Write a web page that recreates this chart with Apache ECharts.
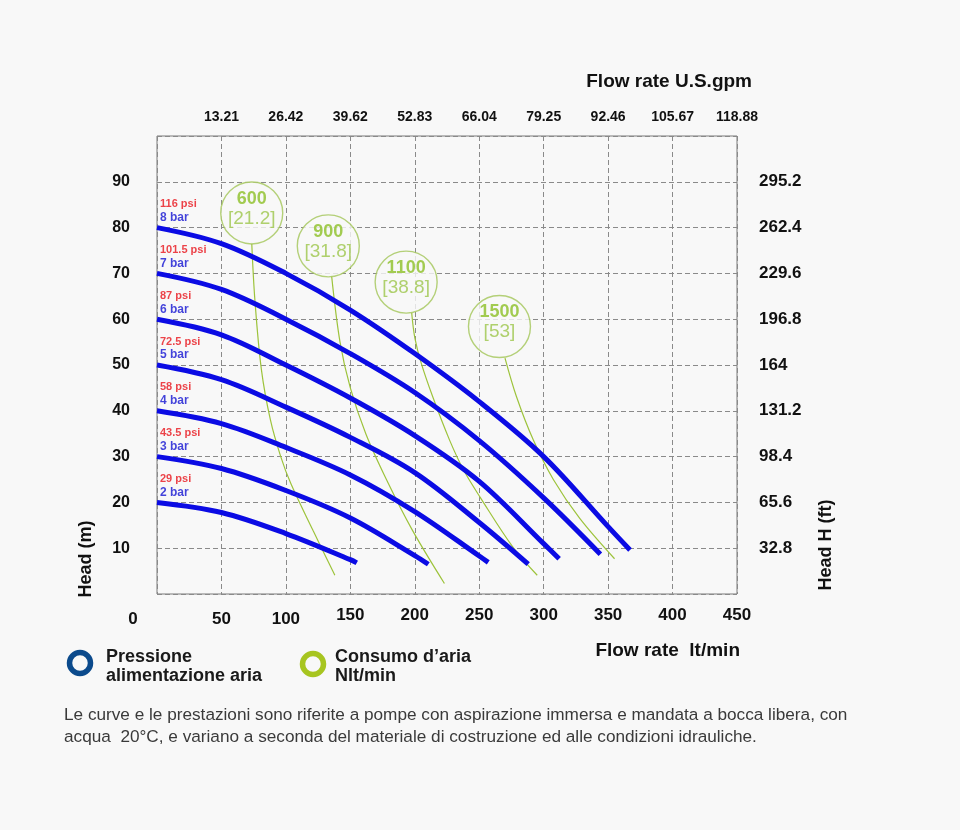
<!DOCTYPE html>
<html>
<head>
<meta charset="utf-8">
<style>
  html, body { margin: 0; padding: 0; background: #f8f8f8; }
  #chart { width: 960px; height: 830px; }
</style>
<script src="https://cdn.jsdelivr.net/npm/echarts@6/dist/echarts.min.js"></script>
</head>
<body>
<div id="chart"></div>
<script>
// ---- Data (flow lt/min, head m) ----
const bar8 = [[0,80],[50,76.5],[100,70],[150,62],[200,52.5],[250,42],[300,30],[350,14.7],[367,9.6]];
const bar7 = [[0,70],[50,66.5],[100,60],[150,52.5],[200,44],[250,33.5],[300,21],[344,8.7]];
const bar6 = [[0,60],[50,56.6],[100,50],[150,42.8],[200,34.6],[250,24.6],[300,11],[312,7.7]];
const bar5 = [[0,50],[50,46.8],[100,40.8],[150,34.2],[200,26.5],[250,15.6],[288,6.5]];
const bar4 = [[0,40],[50,37.2],[100,32],[150,26],[200,18],[250,8.3],[257,6.9]];
const bar3 = [[0,30],[50,27.4],[100,22.6],[150,16.6],[200,8.4],[210.5,6.5]];
const bar2 = [[0,20],[50,17.8],[100,13.2],[150,7.5],[155,6.8]];

const air600  = [[73.5,76.7],[76,64],[81,49],[88,38],[96,30],[104,24],[121,13.9],[138,4.1]];
const air900  = [[135.5,69.4],[142,55],[150,45],[162,35],[178,25],[198,14],[223,2.3]];
const air1100 = [[197.6,61.4],[200,56],[205,50.4],[214,43],[227,33.6],[238,27],[251,21],[276,10.3],[295,4.1]];
const air1500 = [[270,51.5],[279,43],[292,33.6],[307.5,25],[328,16.5],[355,7.7]];

const airBubbles = [[73.5,83.2],[132.9,76.0],[193.3,68.1],[265.7,58.4]];
const airNlt  = ['600','900','1100','1500'];
const airScfm = ['21.2','31.8','38.8','53'];

const barCurves = [bar8, bar7, bar6, bar5, bar4, bar3, bar2];
const barValues = ['8','7','6','5','4','3','2'];
const psiValues = ['116','101.5','87','72.5','58','43.5','29'];

const topTickLabels   = ['13.21','26.42','39.62','52.83','66.04','79.25','92.46','105.67','118.88'];
const rightTickLabels = ['32.8','65.6','98.4','131.2','164','196.8','229.6','262.4','295.2'];

// ---- Styles ----
const FONT = '"Liberation Sans", Arial, sans-serif';
const BLUE = '#0b0be4';
const GREEN_LINE = '#9dc33b';
const GREEN_TXT = '#8cbf26';
const GRID_C = '#8a8a8a';

const chart = echarts.init(document.getElementById('chart'), null, {renderer: 'canvas'});

const series = [];
[air600, air900, air1100, air1500].forEach((d) => {
  series.push({
    type: 'line', data: d, smooth: 0.35, symbol: 'none', z: 2,
    lineStyle: {color: GREEN_LINE, width: 1.2}, silent: true
  });
});
barCurves.forEach((d, i) => {
  series.push({
    type: 'line', name: barValues[i] + ' bar', data: d, smooth: 0.35, symbol: 'none', z: 3,
    lineStyle: {color: BLUE, width: 5}, silent: true
  });
});
series.push({
  type: 'scatter', z: 4, silent: true,
  data: airBubbles,
  symbol: 'circle', symbolSize: 62,
  itemStyle: {color: '#f8f8f8', borderColor: '#a3c658', borderWidth: 1.4},
  label: {
    show: true, position: 'inside',
    formatter: p => '{a|' + airNlt[p.dataIndex] + '}\n{b|[' + airScfm[p.dataIndex] + ']}',
    padding: [0, 0, 8, 0],
    rich: {
      a: {fontFamily: FONT, fontWeight: 'bold', fontSize: 18, color: GREEN_TXT, lineHeight: 19, align: 'center'},
      b: {fontFamily: FONT, fontWeight: 'normal', fontSize: 19, color: '#9cc54a', lineHeight: 20, align: 'center'}
    }
  }
});
series.push({
  type: 'scatter', z: 5, silent: true, symbolSize: 0,
  data: barCurves.map(c => c[0]),
  label: {
    show: true, position: [3, -30], align: 'left', verticalAlign: 'top',
    formatter: p => '{p|' + psiValues[p.dataIndex] + ' psi}\n{b|' + barValues[p.dataIndex] + ' bar}',
    rich: {
      p: {fontFamily: FONT, fontWeight: 'bold', fontSize: 11, color: '#e8141c', lineHeight: 13},
      b: {fontFamily: FONT, fontWeight: 'bold', fontSize: 12, color: '#1414d2', lineHeight: 14}
    }
  }
});

const txt = (text, x, y, size, weight, color, align, extra) => Object.assign({
  type: 'text', x: x, y: y, silent: true,
  style: {
    text: text, x: 0, y: 0, fill: color,
    font: weight + ' ' + size + 'px ' + FONT,
    align: align, textAlign: align, verticalAlign: 'middle', textVerticalAlign: 'middle'
  }
}, extra || {});

const option = {
  backgroundColor: '#f8f8f8',
  animation: false,
  grid: {left: 157, top: 136, width: 580, height: 458, show: true, borderColor: '#7a7a7a', borderWidth: 1, backgroundColor: 'transparent'},
  xAxis: [{
    type: 'value', position: 'bottom', min: 0, max: 450, interval: 50,
    axisLine: {show: false}, axisTick: {show: false},
    splitLine: {show: true, lineStyle: {color: GRID_C, type: [5, 3], width: 1}},
    axisLabel: {
      margin: 13,
      formatter: v => v === 0 ? '{z|0}' : ((v === 50 || v === 100) ? '{d|' + v + '}' : '{n|' + v + '}'),
      rich: {
        z: {fontFamily: FONT, fontWeight: 'bold', fontSize: 17, color: '#111', padding: [4, 48, 0, 0]},
        d: {fontFamily: FONT, fontWeight: 'bold', fontSize: 17, color: '#111', padding: [4, 0, 0, 0]},
        n: {fontFamily: FONT, fontWeight: 'bold', fontSize: 17, color: '#111'}
      }
    }
  }, {
    type: 'value', position: 'top', min: 0, max: 450, interval: 50,
    axisLine: {show: false}, axisTick: {show: false}, splitLine: {show: false},
    axisLabel: {
      margin: 12, fontFamily: FONT, fontWeight: 'bold', fontSize: 14, color: '#111',
      formatter: v => v === 0 ? '' : topTickLabels[v / 50 - 1]
    }
  }],
  yAxis: [{
    type: 'value', position: 'left', min: 0, max: 100, interval: 10,
    axisLine: {show: false}, axisTick: {show: false},
    splitLine: {show: true, lineStyle: {color: GRID_C, type: [5, 3], width: 1}},
    axisLabel: {
      margin: 27, fontFamily: FONT, fontWeight: 'bold', fontSize: 16, color: '#111',
      padding: [3, 0, 0, 0],
      formatter: v => (v === 0 || v === 100) ? '' : String(v)
    }
  }, {
    type: 'value', position: 'right', min: 0, max: 100, interval: 10,
    axisLine: {show: false}, axisTick: {show: false}, splitLine: {show: false},
    axisLabel: {
      margin: 22, fontFamily: FONT, fontWeight: 'bold', fontSize: 17, color: '#111',
      padding: [0, 0, 5, 0],
      formatter: v => (v === 0 || v === 100) ? '' : rightTickLabels[v / 10 - 1]
    }
  }],
  series: series,
  graphic: [
    txt('Flow rate U.S.gpm', 752, 82, 19, 'bold', '#111', 'right'),
    txt('Flow rate  lt/min', 740, 651, 19, 'bold', '#111', 'right'),
    txt('Head (m)', 86, 559, 18, 'bold', '#111', 'center', {rotation: Math.PI / 2}),
    txt('Head H (ft)', 826, 545, 18, 'bold', '#111', 'center', {rotation: Math.PI / 2}),
    {type: 'circle', silent: true, shape: {cx: 80, cy: 663, r: 10.5}, style: {fill: 'none', stroke: '#0b4a8c', lineWidth: 5.5}},
    {type: 'circle', silent: true, shape: {cx: 313, cy: 664, r: 10.5}, style: {fill: 'none', stroke: '#a7c520', lineWidth: 5.5}},
    txt('Pressione', 106, 657, 18, 'bold', '#1a1a1a', 'left'),
    txt('alimentazione aria', 106, 676, 18, 'bold', '#1a1a1a', 'left'),
    txt('Consumo d\u2019aria', 335, 657, 18, 'bold', '#1a1a1a', 'left'),
    txt('Nlt/min', 335, 676, 18, 'bold', '#1a1a1a', 'left'),
    txt('Le curve e le prestazioni sono riferite a pompe con aspirazione immersa e mandata a bocca libera, con', 64, 715, 17.2, 'normal', '#3a3a3a', 'left'),
    txt('acqua  20\u00b0C, e variano a seconda del materiale di costruzione ed alle condizioni idrauliche.', 64, 737, 17.2, 'normal', '#3a3a3a', 'left')
  ]
};
chart.setOption(option);
</script>
</body>
</html>
